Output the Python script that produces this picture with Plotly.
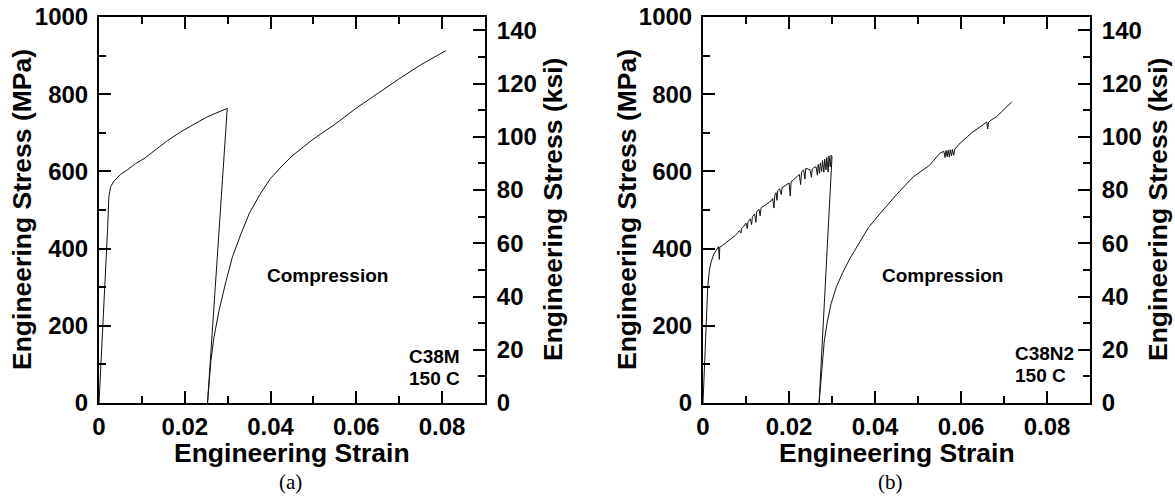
import plotly.graph_objects as go

# ---- C38M, 150 C : tension (with unloading) and compression ----
c38m_tension_strain = [0, 0.0008, 0.0016, 0.0020, 0.0023, 0.0027, 0.0035, 0.0050, 0.0065,
                       0.0085, 0.0105, 0.0130, 0.0160, 0.0190, 0.0220, 0.0250, 0.0275,
                       0.0299, 0.0253]
c38m_tension_stress = [0, 170, 345, 450, 535, 560, 575, 592, 603,
                       620, 633, 655, 680, 702, 722, 740, 752,
                       763, 0]

c38m_comp_strain = [0.0253, 0.0256, 0.0261, 0.0268, 0.0280, 0.0296, 0.0311, 0.0330, 0.0350,
                    0.0375, 0.0400, 0.0425, 0.0450, 0.0500, 0.0550, 0.0600, 0.0650, 0.0700,
                    0.0750, 0.0809]
c38m_comp_stress = [0, 50, 110, 170, 240, 315, 378, 435, 490,
                    540, 582, 612, 640, 684, 722, 764, 803, 840,
                    876, 913]

# ---- C38N2, 150 C : serrated tension (with unloading) and compression ----
c38n2_tension_strain = [0, 0.0005, 0.0011, 0.0015, 0.0019, 0.0025, 0.0033, 0.0036, 0.0038, 0.0039,
                        0.0045, 0.0050, 0.0055, 0.0060, 0.0065, 0.0070, 0.0075, 0.0080, 0.0085,
                        0.0088, 0.0090, 0.0095, 0.0100, 0.0103, 0.0105, 0.0110, 0.0113, 0.0115,
                        0.0120, 0.0123, 0.0125, 0.0130, 0.0133, 0.0135, 0.0140, 0.0145, 0.0150,
                        0.0155, 0.0158, 0.0162, 0.0165, 0.0167, 0.0170, 0.0172, 0.0174, 0.0178,
                        0.0182, 0.0184, 0.0190, 0.0195, 0.0200, 0.0203, 0.0205, 0.0210, 0.0215,
                        0.0220, 0.0224, 0.0227, 0.0229, 0.0234, 0.0237, 0.0239, 0.0244, 0.0249,
                        0.0252, 0.0254, 0.0258, 0.0263, 0.0266, 0.0268, 0.0271, 0.0273, 0.0276,
                        0.0278, 0.0281, 0.0283, 0.0286, 0.0288, 0.0291, 0.0293, 0.0296, 0.0298,
                        0.0300, 0.0270]
c38n2_tension_stress = [0, 150, 300, 345, 366, 385, 398, 405, 372, 404,
                        408, 412, 416, 420, 424, 428, 434, 440, 447,
                        440, 452, 458, 466, 452, 470, 477, 462, 483,
                        490, 468, 495, 502, 485, 506, 510, 514, 517,
                        520, 523, 530, 505, 538, 545, 525, 550, 555,
                        540, 558, 562, 566, 570, 536, 574, 578, 583,
                        588, 592, 566, 598, 604, 580, 608, 606, 604,
                        585, 606, 610, 612, 590, 618, 595, 622, 600,
                        628, 598, 632, 604, 636, 598, 640, 612, 642,
                        638, 0]

c38n2_comp_strain = [0.0270, 0.0273, 0.0277, 0.0282, 0.0289, 0.0298, 0.0310, 0.0325, 0.0342,
                     0.0360, 0.0385, 0.0412, 0.0450, 0.0489, 0.0527, 0.0551, 0.0560, 0.0563,
                     0.0565, 0.0568, 0.0570, 0.0573, 0.0575, 0.0578, 0.0580, 0.0583, 0.0586,
                     0.0595, 0.0605, 0.0615, 0.0625, 0.0635, 0.0645, 0.0655, 0.0660, 0.0662,
                     0.0664, 0.0670, 0.0683, 0.0695, 0.0705, 0.0712, 0.0718]
c38n2_comp_stress = [0, 45, 105, 160, 210, 258, 300, 338, 375,
                     410, 455, 491, 540, 586, 616, 647, 652, 636,
                     654, 638, 655, 637, 656, 640, 657, 642, 658,
                     670, 681, 690, 700, 708, 716, 724, 728, 710,
                     727, 733, 742, 755, 766, 772, 780]

# ---- axis ticks ----
strain_ticks = [0, 0.02, 0.04, 0.06, 0.08]
strain_tick_labels = ["0", "0.02", "0.04", "0.06", "0.08"]
mpa_ticks = [0, 200, 400, 600, 800, 1000]
ksi_ticks = [0, 20, 40, 60, 80, 100, 120, 140]
MPA_TO_KSI = 0.145038

W, H = 1175, 503
BLACK = "black"
TICK_FONT = dict(family="Liberation Sans", size=24, color=BLACK, weight="bold")
TITLE_FONT = dict(family="Liberation Sans", size=26.5, color=BLACK, weight="bold")
LABEL_FONT = dict(family="Liberation Sans", size=19, color=BLACK, weight="bold")
CAPTION_FONT = dict(family="Liberation Serif", size=21, color=BLACK)

# plot boxes in pixels (left, right), shared top/bottom
panels = [(99, 485), (703, 1090)]
top_px, bottom_px = 17, 403
y_dom = [1 - bottom_px / H, 1 - top_px / H]

fig = go.Figure()

line_style = dict(color="#111111", width=1)
curves = [
    (c38m_tension_strain, c38m_tension_stress, "x", "y"),
    (c38m_comp_strain, c38m_comp_stress, "x", "y"),
    (c38n2_tension_strain, c38n2_tension_stress, "x2", "y3"),
    (c38n2_comp_strain, c38n2_comp_stress, "x2", "y3"),
]
for xs, ys, xa, ya in curves:
    fig.add_trace(go.Scatter(x=xs, y=ys, mode="lines", line=line_style,
                             xaxis=xa, yaxis=ya, showlegend=False, hoverinfo="skip"))
# keep the ksi axes attached to their panels
for xa, ya in (("x", "y2"), ("x2", "y4")):
    fig.add_trace(go.Scatter(x=[None], y=[None], mode="lines", xaxis=xa, yaxis=ya,
                             showlegend=False, hoverinfo="skip"))

common = dict(showline=True, linecolor=BLACK, linewidth=2, showgrid=False, zeroline=False,
              ticks="inside", ticklen=12, tickwidth=2, tickcolor=BLACK, tickfont=TICK_FONT,
              automargin=False)


def minor(step):
    return dict(ticks="inside", ticklen=7, tickwidth=2, tickcolor=BLACK, tick0=0, dtick=step)


def x_axis(i, anchor):
    l, r = panels[i]
    return dict(common, domain=[l / W, r / W], anchor=anchor, range=[0, 0.09],
                tickmode="array", tickvals=strain_ticks, ticktext=strain_tick_labels,
                minor=minor(0.01), mirror="ticks", ticklabelstandoff=1)


def mpa_axis(anchor):
    return dict(common, domain=y_dom, anchor=anchor, range=[0, 1000],
                tickmode="array", tickvals=mpa_ticks, minor=minor(100),
                ticklabelstandoff=4)


def ksi_axis(anchor, over):
    return dict(common, anchor=anchor, overlaying=over, side="right",
                range=[0, 1000 * MPA_TO_KSI],
                tickmode="array", tickvals=ksi_ticks, minor=minor(10),
                ticklabelstandoff=5)


fig.update_layout(
    width=W, height=H,
    margin=dict(l=0, r=0, t=0, b=0),
    paper_bgcolor="white", plot_bgcolor="white",
    xaxis=x_axis(0, "y"), yaxis=mpa_axis("x"), yaxis2=ksi_axis("x", "y"),
    xaxis2=x_axis(1, "y3"), yaxis3=mpa_axis("x2"), yaxis4=ksi_axis("x2", "y3"),
)


def note(text, x_px, y_px, font, xanchor="center", angle=0):
    fig.add_annotation(text=text, x=x_px / W, y=1 - y_px / H, xref="paper", yref="paper",
                       xanchor=xanchor, yanchor="middle", showarrow=False, font=font,
                       textangle=angle)


mid_y = (top_px + bottom_px) / 2
for (l, r), left_title_x, right_title_x, tag, comp_x, tag_x in (
        ((99, 485), 22, 553, "(a)", 327, 290),
        ((703, 1090), 627, 1158, "(b)", 942, 890)):
    cx = (l + r) / 2
    note("Engineering Strain", cx, 453, TITLE_FONT)
    note("Engineering Stress (MPa)", left_title_x, mid_y, TITLE_FONT, angle=-90)
    note("Engineering Stress (ksi)", right_title_x, mid_y, TITLE_FONT, angle=-90)
    note("Compression", comp_x, 275, LABEL_FONT)
    note(tag, tag_x, 482, CAPTION_FONT)

note("C38M", 462, 356, LABEL_FONT, "right")
note("150 C", 462, 378, LABEL_FONT, "right")
note("C38N2", 1076, 353, LABEL_FONT, "right")
note("150 C", 1068, 375, LABEL_FONT, "right")

fig.write_html("out.html")
